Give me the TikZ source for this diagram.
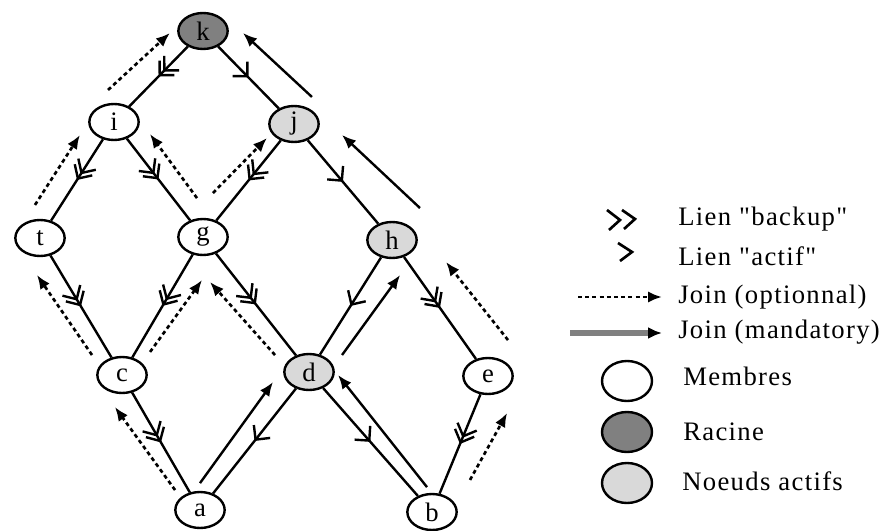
\documentclass[tikz,border=0pt]{standalone}
\usepackage{fontspec}
\setmainfont{Liberation Serif}
\newfontfamily\legendfont{Liberation Serif}[LetterSpace=5]
\usetikzlibrary{arrows.meta,calc,decorations.markings,shapes.geometric}

\definecolor{rootgray}{gray}{0.5}
\definecolor{activegray}{gray}{0.85}

\tikzset{
  nodebase/.style={ellipse, draw=black, line width=1.8pt, minimum width=37pt,
    minimum height=27pt, inner sep=0pt, font=\fontsize{20}{20}\selectfont},
  membre/.style={nodebase, fill=white},
  racine/.style={nodebase, fill=rootgray},
  actif/.style={nodebase, fill=activegray},
  markbarb/.tip={Straight Barb[angle=90:11pt]},
  link/.style={line width=1.8pt},
  activelink/.style={link, postaction={decorate, decoration={markings,
    mark=at position 0.5 with {\arrow{markbarb}}}}},
  backuplink/.style={link, postaction={decorate, decoration={markings,
    mark=at position 0.5 with {\arrow{markbarb}\pgftransformxshift{-5pt}\arrow{markbarb}}}}},
  joinhead/.tip={Latex[length=10.5pt,width=8.5pt]},
  joinopt/.style={line width=2pt, dash pattern=on 3pt off 2.4pt, -{joinhead}},
  joinmand/.style={line width=1.8pt, -{joinhead}},
  chevron/.style={line width=2pt},
  legendtext/.style={anchor=base west, inner sep=0pt,
    font=\legendfont\fontsize{20}{20}\selectfont},
  legendnode/.style={nodebase, minimum width=37.5pt, minimum height=30pt},
}

% join request drawn beside the link from #2 to #3:
% #4/#6 = start/end fractions, #5/#7 = signed side offsets (positive = left)
\newcommand\joinlink[7]{%
  \draw[#1] ($(#2)!#4!(#3)!#5!90:(#3)$) -- ($(#2)!#6!(#3)!#7!90:(#3)$);}

\begin{document}
\begin{tikzpicture}[x=0.75pt,y=-0.75pt]
\useasboundingbox (0,0) rectangle (888,531);

% members of the tree
\node[racine] (k) at (203,31) {k};
\node[membre] (i) at (114,122) {i};
\node[actif]  (j) at (294,124) {j};
\node[membre] (t) at (40,238) {t};
\node[membre] (g) at (203,237) {g};
\node[actif]  (h) at (392,240) {h};
\node[membre] (c) at (122,375) {c};
\node[actif]  (d) at (309,372) {d};
\node[membre] (e) at (488,376) {e};
\node[membre] (a) at (200,510) {a};
\node[membre] (b) at (432,512) {b};

% links, marked towards the child
\draw[backuplink] (k) -- (i);
\draw[activelink] (k) -- (j);
\draw[backuplink] (i) -- (t);
\draw[backuplink] (i) -- (g);
\draw[backuplink] (j) -- (g);
\draw[activelink] (j) -- (h);
\draw[backuplink] (t) -- (c);
\draw[backuplink] (g) -- (c);
\draw[backuplink] (g) -- (d);
\draw[activelink] (h) -- (d);
\draw[backuplink] (h) -- (e);
\draw[backuplink] (c) -- (a);
\draw[activelink] (d) -- (a);
\draw[activelink] (d) -- (b);
\draw[backuplink] (e) -- (b);

% join requests
\joinlink{joinopt}{i}{k}{0.147}{20pt}{0.807}{16.7pt}
\joinlink{joinmand}{j}{k}{0.052}{-23.8pt}{0.774}{-20.4pt}
\joinlink{joinmand}{h}{j}{0.042}{-31.5pt}{0.741}{-22.2pt}
\joinlink{joinopt}{t}{i}{0.183}{16.5pt}{0.787}{16.3pt}
\joinlink{joinopt}{g}{i}{0.237}{-14.3pt}{0.783}{-15.8pt}
\joinlink{joinopt}{g}{j}{0.279}{14.9pt}{0.808}{9.2pt}
\joinlink{joinopt}{c}{t}{0.204}{11.6pt}{0.811}{16.2pt}
\joinlink{joinopt}{c}{g}{0.213}{-9.4pt}{0.765}{-15.7pt}
\joinlink{joinopt}{d}{g}{0.2}{12.2pt}{0.769}{16.7pt}
\joinlink{joinmand}{d}{h}{0.205}{-14.2pt}{0.837}{-19.1pt}
\joinlink{joinopt}{e}{h}{0.107}{-27.8pt}{0.705}{-23.6pt}
\joinlink{joinopt}{a}{c}{0.191}{8.7pt}{0.845}{16.6pt}
\joinlink{joinmand}{a}{d}{0.12}{12.5pt}{0.828}{16.5pt}
\joinlink{joinmand}{b}{d}{0.118}{-9.5pt}{0.885}{-14.9pt}
\joinlink{joinopt}{b}{e}{0.3}{-17.2pt}{0.817}{-23.8pt}

% legend
\draw[chevron] (607,210) -- (620,220) -- (609,230);
\draw[chevron] (622,210) -- (635,219) -- (624,229);
\node[legendtext] (lbackup) at (678,225) {Lien "backup"};
\draw[chevron] (618,243) -- (632,252) -- (620,261);
\node[legendtext] (lactif) at (678,265) {Lien "actif"};
\coordinate (lo1) at (578,297);
\coordinate (lo2) at (662,297);
\draw[joinopt] (lo1) -- (lo2);
\node[legendtext] (lopt) at (678,303) {Join (optionnal)};
\coordinate (lm1) at (570,333);
\coordinate (lm2) at (662,333);
\draw[line width=4pt, draw=gray, -{Latex[length=10.5pt,width=9pt,color=black]}] (lm1) -- (lm2);
\node[legendtext] (lmand) at (678,338) {Join (mandatory)};
\node[legendnode, fill=white] (lgm) at (627,381) {};
\node[legendtext] (lmembres) at (683,385) {Membres};
\node[legendnode, fill=rootgray] (lgr) at (627,432) {};
\node[legendtext] (lracine) at (683,440) {Racine};
\node[legendnode, fill=activegray] (lga) at (627,483) {};
\node[legendtext] (lactifs) at (682,490) {Noeuds actifs};
\end{tikzpicture}
\end{document}
